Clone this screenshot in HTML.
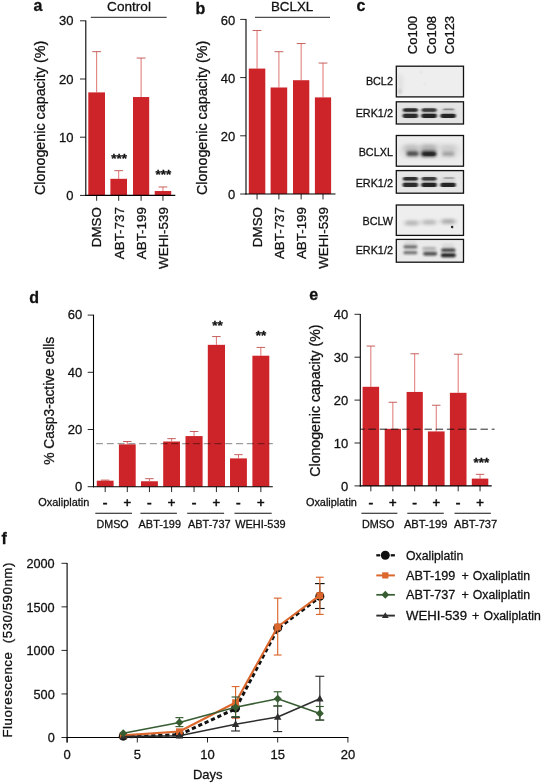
<!DOCTYPE html>
<html lang="en"><head><meta charset="utf-8"><title>Figure</title>
<style>
html,body{margin:0;padding:0;background:#fff;}
svg{display:block;font-family:'Liberation Sans', Arial, Helvetica, sans-serif;}
</style></head>
<body>
<svg width="542" height="784" viewBox="0 0 542 784">
<rect x="0" y="0" width="542" height="784" fill="#ffffff"/>
<text x="33.60" y="10.60" font-size="16" text-anchor="start" font-weight="bold" fill="#111" stroke="#111" stroke-width="0.28" >a</text>
<text x="129.00" y="10.70" font-size="13.6" text-anchor="middle" font-weight="normal" fill="#111" stroke="#111" stroke-width="0.28" >Control</text>
<line x1="90.80" y1="17.30" x2="166.70" y2="17.30" stroke="#222" stroke-width="1.0" />
<line x1="96.65" y1="92.39" x2="96.65" y2="51.65" stroke="#d6514f" stroke-width="0.8" />
<line x1="92.25" y1="51.65" x2="101.05" y2="51.65" stroke="#c0504d" stroke-width="0.9" />
<line x1="118.70" y1="178.81" x2="118.70" y2="170.67" stroke="#d6514f" stroke-width="0.8" />
<line x1="114.30" y1="170.67" x2="123.10" y2="170.67" stroke="#c0504d" stroke-width="0.9" />
<line x1="141.10" y1="97.04" x2="141.10" y2="58.05" stroke="#d6514f" stroke-width="0.8" />
<line x1="136.70" y1="58.05" x2="145.50" y2="58.05" stroke="#c0504d" stroke-width="0.9" />
<line x1="162.95" y1="191.03" x2="162.95" y2="186.96" stroke="#d6514f" stroke-width="0.8" />
<line x1="158.55" y1="186.96" x2="167.35" y2="186.96" stroke="#c0504d" stroke-width="0.9" />
<rect x="88.30" y="92.39" width="16.70" height="103.01" fill="#cc2429" />
<rect x="110.40" y="178.81" width="16.60" height="16.59" fill="#cc2429" />
<rect x="133.00" y="97.04" width="16.20" height="98.36" fill="#cc2429" />
<rect x="154.70" y="191.03" width="16.50" height="4.37" fill="#cc2429" />
<line x1="85.80" y1="20.40" x2="85.80" y2="195.95" stroke="#000" stroke-width="1.1" />
<line x1="85.25" y1="195.40" x2="175.30" y2="195.40" stroke="#000" stroke-width="1.1" />
<line x1="80.00" y1="195.40" x2="85.80" y2="195.40" stroke="#000" stroke-width="0.85" />
<text x="73.40" y="200.00" font-size="13" text-anchor="end" font-weight="normal" fill="#111" stroke="#111" stroke-width="0.28" >0</text>
<line x1="80.00" y1="137.20" x2="85.80" y2="137.20" stroke="#000" stroke-width="0.85" />
<text x="73.40" y="141.80" font-size="13" text-anchor="end" font-weight="normal" fill="#111" stroke="#111" stroke-width="0.28" >10</text>
<line x1="80.00" y1="79.00" x2="85.80" y2="79.00" stroke="#000" stroke-width="0.85" />
<text x="73.40" y="83.60" font-size="13" text-anchor="end" font-weight="normal" fill="#111" stroke="#111" stroke-width="0.28" >20</text>
<line x1="80.00" y1="20.80" x2="85.80" y2="20.80" stroke="#000" stroke-width="0.85" />
<text x="73.40" y="25.40" font-size="13" text-anchor="end" font-weight="normal" fill="#111" stroke="#111" stroke-width="0.28" >30</text>
<line x1="96.65" y1="195.40" x2="96.65" y2="200.80" stroke="#000" stroke-width="0.85" />
<line x1="118.70" y1="195.40" x2="118.70" y2="200.80" stroke="#000" stroke-width="0.85" />
<line x1="141.10" y1="195.40" x2="141.10" y2="200.80" stroke="#000" stroke-width="0.85" />
<line x1="162.95" y1="195.40" x2="162.95" y2="200.80" stroke="#000" stroke-width="0.85" />
<text x="45.10" y="117.85" font-size="14.2" text-anchor="middle" font-weight="normal" fill="#111" stroke="#111" stroke-width="0.28" transform="rotate(-90 45.10 117.85)" textLength="154.30" lengthAdjust="spacingAndGlyphs" >Clonogenic capacity (%)</text>
<text x="101.50" y="207.10" font-size="13.4" text-anchor="end" font-weight="normal" fill="#111" stroke="#111" stroke-width="0.28" transform="rotate(-90 101.50 207.10)" >DMSO</text>
<text x="123.60" y="207.10" font-size="13.4" text-anchor="end" font-weight="normal" fill="#111" stroke="#111" stroke-width="0.28" transform="rotate(-90 123.60 207.10)" >ABT-737</text>
<text x="146.00" y="207.10" font-size="13.4" text-anchor="end" font-weight="normal" fill="#111" stroke="#111" stroke-width="0.28" transform="rotate(-90 146.00 207.10)" >ABT-199</text>
<text x="167.90" y="207.10" font-size="13.4" text-anchor="end" font-weight="normal" fill="#111" stroke="#111" stroke-width="0.28" transform="rotate(-90 167.90 207.10)" >WEHI-539</text>
<text x="119.20" y="162.60" font-size="13.5" text-anchor="middle" font-weight="bold" fill="#111" stroke="#111" stroke-width="0.28" >***</text>
<text x="163.50" y="178.80" font-size="13.5" text-anchor="middle" font-weight="bold" fill="#111" stroke="#111" stroke-width="0.28" >***</text>
<text x="195.60" y="14.10" font-size="16" text-anchor="start" font-weight="bold" fill="#111" stroke="#111" stroke-width="0.28" >b</text>
<text x="292.10" y="10.70" font-size="13.4" text-anchor="middle" font-weight="normal" fill="#111" stroke="#111" stroke-width="0.28" >BCLXL</text>
<line x1="255.00" y1="17.30" x2="330.00" y2="17.30" stroke="#222" stroke-width="1.0" />
<line x1="257.05" y1="68.58" x2="257.05" y2="30.46" stroke="#d6514f" stroke-width="0.8" />
<line x1="252.65" y1="30.46" x2="261.45" y2="30.46" stroke="#c0504d" stroke-width="0.9" />
<line x1="278.90" y1="87.49" x2="278.90" y2="51.70" stroke="#d6514f" stroke-width="0.8" />
<line x1="274.50" y1="51.70" x2="283.30" y2="51.70" stroke="#c0504d" stroke-width="0.9" />
<line x1="301.15" y1="80.22" x2="301.15" y2="43.55" stroke="#d6514f" stroke-width="0.8" />
<line x1="296.75" y1="43.55" x2="305.55" y2="43.55" stroke="#c0504d" stroke-width="0.9" />
<line x1="323.00" y1="97.39" x2="323.00" y2="63.05" stroke="#d6514f" stroke-width="0.8" />
<line x1="318.60" y1="63.05" x2="327.40" y2="63.05" stroke="#c0504d" stroke-width="0.9" />
<rect x="248.80" y="68.58" width="16.50" height="125.42" fill="#cc2429" />
<rect x="270.60" y="87.49" width="16.60" height="106.51" fill="#cc2429" />
<rect x="293.00" y="80.22" width="16.30" height="113.78" fill="#cc2429" />
<rect x="314.90" y="97.39" width="16.20" height="96.61" fill="#cc2429" />
<line x1="246.00" y1="19.00" x2="246.00" y2="194.55" stroke="#000" stroke-width="1.1" />
<line x1="245.45" y1="194.00" x2="335.50" y2="194.00" stroke="#000" stroke-width="1.1" />
<line x1="240.20" y1="194.00" x2="246.00" y2="194.00" stroke="#000" stroke-width="0.85" />
<text x="235.20" y="199.30" font-size="13" text-anchor="end" font-weight="normal" fill="#111" stroke="#111" stroke-width="0.28" >0</text>
<line x1="240.20" y1="135.80" x2="246.00" y2="135.80" stroke="#000" stroke-width="0.85" />
<text x="235.20" y="141.10" font-size="13" text-anchor="end" font-weight="normal" fill="#111" stroke="#111" stroke-width="0.28" >20</text>
<line x1="240.20" y1="77.60" x2="246.00" y2="77.60" stroke="#000" stroke-width="0.85" />
<text x="235.20" y="82.90" font-size="13" text-anchor="end" font-weight="normal" fill="#111" stroke="#111" stroke-width="0.28" >40</text>
<line x1="240.20" y1="19.40" x2="246.00" y2="19.40" stroke="#000" stroke-width="0.85" />
<text x="235.20" y="24.70" font-size="13" text-anchor="end" font-weight="normal" fill="#111" stroke="#111" stroke-width="0.28" >60</text>
<line x1="257.05" y1="194.00" x2="257.05" y2="199.40" stroke="#000" stroke-width="0.85" />
<line x1="278.90" y1="194.00" x2="278.90" y2="199.40" stroke="#000" stroke-width="0.85" />
<line x1="301.15" y1="194.00" x2="301.15" y2="199.40" stroke="#000" stroke-width="0.85" />
<line x1="323.00" y1="194.00" x2="323.00" y2="199.40" stroke="#000" stroke-width="0.85" />
<text x="207.00" y="117.85" font-size="14.2" text-anchor="middle" font-weight="normal" fill="#111" stroke="#111" stroke-width="0.28" transform="rotate(-90 207.00 117.85)" textLength="154.30" lengthAdjust="spacingAndGlyphs" >Clonogenic capacity (%)</text>
<text x="261.90" y="207.00" font-size="13.4" text-anchor="end" font-weight="normal" fill="#111" stroke="#111" stroke-width="0.28" transform="rotate(-90 261.90 207.00)" >DMSO</text>
<text x="283.80" y="207.00" font-size="13.4" text-anchor="end" font-weight="normal" fill="#111" stroke="#111" stroke-width="0.28" transform="rotate(-90 283.80 207.00)" >ABT-737</text>
<text x="306.00" y="207.00" font-size="13.4" text-anchor="end" font-weight="normal" fill="#111" stroke="#111" stroke-width="0.28" transform="rotate(-90 306.00 207.00)" >ABT-199</text>
<text x="327.90" y="207.00" font-size="13.4" text-anchor="end" font-weight="normal" fill="#111" stroke="#111" stroke-width="0.28" transform="rotate(-90 327.90 207.00)" >WEHI-539</text>
<text x="356.60" y="10.50" font-size="16" text-anchor="start" font-weight="bold" fill="#111" stroke="#111" stroke-width="0.28" >c</text>
<text x="417.30" y="54.20" font-size="13" text-anchor="start" font-weight="normal" fill="#111" stroke="#111" stroke-width="0.28" transform="rotate(-90 417.30 54.20)" >Co100</text>
<text x="436.10" y="54.20" font-size="13" text-anchor="start" font-weight="normal" fill="#111" stroke="#111" stroke-width="0.28" transform="rotate(-90 436.10 54.20)" >Co108</text>
<text x="454.20" y="54.20" font-size="13" text-anchor="start" font-weight="normal" fill="#111" stroke="#111" stroke-width="0.28" transform="rotate(-90 454.20 54.20)" >Co123</text>
<defs><filter id="b0" x="-100%" y="-100%" width="300%" height="300%"><feGaussianBlur stdDeviation="0.45"/></filter><filter id="b1" x="-50%" y="-200%" width="200%" height="500%"><feGaussianBlur stdDeviation="0.9 0.7"/></filter><filter id="b15" x="-50%" y="-200%" width="200%" height="500%"><feGaussianBlur stdDeviation="1.3 1.0"/></filter><filter id="b2" x="-50%" y="-200%" width="200%" height="500%"><feGaussianBlur stdDeviation="1.6 1.4"/></filter><filter id="b3" x="-50%" y="-200%" width="200%" height="500%"><feGaussianBlur stdDeviation="2.2 1.8"/></filter></defs>
<rect x="396.30" y="66.20" width="67.20" height="30.70" fill="#eeeeee" />
<text x="392.90" y="84.65" font-size="10.8" text-anchor="end" font-weight="normal" fill="#111" stroke="#111" stroke-width="0.28" >BCL2</text>
<rect x="396.30" y="101.80" width="67.20" height="22.20" fill="#e4e4e4" />
<text x="392.90" y="117.20" font-size="10.8" text-anchor="end" font-weight="normal" fill="#111" stroke="#111" stroke-width="0.28" >ERK1/2</text>
<rect x="396.30" y="135.50" width="67.20" height="30.70" fill="#ececec" />
<text x="392.90" y="155.75" font-size="10.8" text-anchor="end" font-weight="normal" fill="#111" stroke="#111" stroke-width="0.28" >BCLXL</text>
<rect x="396.30" y="170.60" width="67.20" height="22.60" fill="#e6e6e6" />
<text x="392.90" y="187.10" font-size="10.8" text-anchor="end" font-weight="normal" fill="#111" stroke="#111" stroke-width="0.28" >ERK1/2</text>
<rect x="396.30" y="205.00" width="67.20" height="30.40" fill="#eeeeee" />
<text x="392.90" y="224.80" font-size="10.8" text-anchor="end" font-weight="normal" fill="#111" stroke="#111" stroke-width="0.28" >BCLW</text>
<rect x="396.30" y="239.40" width="67.20" height="22.80" fill="#eaeaea" />
<text x="392.90" y="253.60" font-size="10.8" text-anchor="end" font-weight="normal" fill="#111" stroke="#111" stroke-width="0.28" >ERK1/2</text>
<rect x="397.70" y="73.00" width="5.00" height="22.00" rx="11.00" fill="#1c1c1c" opacity="0.07" filter="url(#b3)"/>
<rect x="398.30" y="89.25" width="2.60" height="4.50" rx="2.25" fill="#1c1c1c" opacity="0.22" filter="url(#b2)"/>
<rect x="420.20" y="70.50" width="1.60" height="3.00" rx="1.50" fill="#1c1c1c" opacity="0.08" filter="url(#b1)"/>
<rect x="424.20" y="82.50" width="1.60" height="3.00" rx="1.50" fill="#1c1c1c" opacity="0.06" filter="url(#b1)"/>
<rect x="402.65" y="108.30" width="15.50" height="9.00" rx="4.50" fill="#1c1c1c" opacity="0.22" filter="url(#b2)"/>
<rect x="402.90" y="108.20" width="15.00" height="3.60" rx="1.80" fill="#1c1c1c" opacity="0.9" filter="url(#b1)"/>
<rect x="402.60" y="113.80" width="15.60" height="4.20" rx="2.10" fill="#1c1c1c" opacity="0.9" filter="url(#b1)"/>
<rect x="421.35" y="108.30" width="15.50" height="9.00" rx="4.50" fill="#1c1c1c" opacity="0.22" filter="url(#b2)"/>
<rect x="421.60" y="108.20" width="15.00" height="3.60" rx="1.80" fill="#1c1c1c" opacity="0.8" filter="url(#b1)"/>
<rect x="421.30" y="113.80" width="15.60" height="4.20" rx="2.10" fill="#1c1c1c" opacity="0.95" filter="url(#b1)"/>
<rect x="440.35" y="108.30" width="15.50" height="9.00" rx="4.50" fill="#1c1c1c" opacity="0.1" filter="url(#b2)"/>
<rect x="440.30" y="113.80" width="15.60" height="4.20" rx="2.10" fill="#1c1c1c" opacity="0.95" filter="url(#b1)"/>
<rect x="443.10" y="108.55" width="11.00" height="1.70" rx="0.85" fill="#1c1c1c" opacity="0.4" filter="url(#b1)"/>
<rect x="406.35" y="151.50" width="12.50" height="4.60" rx="2.30" fill="#1c1c1c" opacity="0.8" filter="url(#b2)"/>
<rect x="420.95" y="151.00" width="15.50" height="5.60" rx="2.80" fill="#1c1c1c" opacity="0.95" filter="url(#b2)"/>
<rect x="423.50" y="152.40" width="12.00" height="3.60" rx="1.80" fill="#1c1c1c" opacity="0.55" filter="url(#b1)"/>
<rect x="442.05" y="152.10" width="12.50" height="3.80" rx="1.90" fill="#1c1c1c" opacity="0.32" filter="url(#b2)"/>
<rect x="403.90" y="145.00" width="15.00" height="8.00" rx="4.00" fill="#1c1c1c" opacity="0.16" filter="url(#b3)"/>
<rect x="420.70" y="144.50" width="16.00" height="8.00" rx="4.00" fill="#1c1c1c" opacity="0.22" filter="url(#b3)"/>
<rect x="440.80" y="145.00" width="15.00" height="8.00" rx="4.00" fill="#1c1c1c" opacity="0.09" filter="url(#b3)"/>
<rect x="399.00" y="143.00" width="62.00" height="16.00" rx="8.00" fill="#1c1c1c" opacity="0.05" filter="url(#b3)"/>
<rect x="402.65" y="177.30" width="15.50" height="9.00" rx="4.50" fill="#1c1c1c" opacity="0.2" filter="url(#b2)"/>
<rect x="402.90" y="177.00" width="15.00" height="3.60" rx="1.80" fill="#1c1c1c" opacity="0.88" filter="url(#b1)"/>
<rect x="402.60" y="182.70" width="15.60" height="4.40" rx="2.20" fill="#1c1c1c" opacity="0.9" filter="url(#b1)"/>
<rect x="421.35" y="177.30" width="15.50" height="9.00" rx="4.50" fill="#1c1c1c" opacity="0.2" filter="url(#b2)"/>
<rect x="421.60" y="177.00" width="15.00" height="3.60" rx="1.80" fill="#1c1c1c" opacity="0.8" filter="url(#b1)"/>
<rect x="421.30" y="182.70" width="15.60" height="4.40" rx="2.20" fill="#1c1c1c" opacity="0.95" filter="url(#b1)"/>
<rect x="440.35" y="177.30" width="15.50" height="9.00" rx="4.50" fill="#1c1c1c" opacity="0.08" filter="url(#b2)"/>
<rect x="440.30" y="182.70" width="15.60" height="4.40" rx="2.20" fill="#1c1c1c" opacity="0.95" filter="url(#b1)"/>
<rect x="443.75" y="177.15" width="10.50" height="1.50" rx="0.75" fill="#1c1c1c" opacity="0.35" filter="url(#b1)"/>
<rect x="404.80" y="220.50" width="14.00" height="5.00" rx="2.50" fill="#1c1c1c" opacity="0.26" filter="url(#b3)"/>
<rect x="422.10" y="219.70" width="14.00" height="5.00" rx="2.50" fill="#1c1c1c" opacity="0.24" filter="url(#b3)"/>
<rect x="441.30" y="219.10" width="14.00" height="5.00" rx="2.50" fill="#1c1c1c" opacity="0.3" filter="url(#b3)"/>
<circle cx="452.1" cy="226.9" r="1.25" fill="#1c1c1c" opacity="0.95" filter="url(#b0)"/>
<rect x="403.40" y="245.20" width="14.00" height="3.20" rx="1.60" fill="#1c1c1c" opacity="0.62" filter="url(#b15)"/>
<rect x="403.40" y="251.10" width="14.00" height="3.20" rx="1.60" fill="#1c1c1c" opacity="0.58" filter="url(#b15)"/>
<rect x="422.35" y="247.20" width="13.50" height="2.40" rx="1.20" fill="#1c1c1c" opacity="0.25" filter="url(#b15)"/>
<rect x="423.20" y="252.00" width="14.00" height="3.60" rx="1.80" fill="#1c1c1c" opacity="0.75" filter="url(#b15)"/>
<rect x="441.05" y="248.40" width="14.50" height="3.40" rx="1.70" fill="#1c1c1c" opacity="0.85" filter="url(#b15)"/>
<rect x="440.80" y="253.25" width="15.00" height="3.90" rx="1.95" fill="#1c1c1c" opacity="0.98" filter="url(#b15)"/>
<rect x="404.40" y="241.50" width="12.00" height="3.00" rx="1.50" fill="#1c1c1c" opacity="0.1" filter="url(#b2)"/>
<rect x="442.30" y="244.00" width="12.00" height="3.00" rx="1.50" fill="#1c1c1c" opacity="0.1" filter="url(#b2)"/>
<rect x="422.50" y="247.00" width="14.00" height="8.00" rx="4.00" fill="#1c1c1c" opacity="0.1" filter="url(#b2)"/>
<rect x="396.30" y="66.20" width="67.20" height="30.70" fill="none" stroke="#111" stroke-width="1.3"/>
<rect x="396.30" y="101.80" width="67.20" height="22.20" fill="none" stroke="#111" stroke-width="1.3"/>
<rect x="396.30" y="135.50" width="67.20" height="30.70" fill="none" stroke="#111" stroke-width="1.3"/>
<rect x="396.30" y="170.60" width="67.20" height="22.60" fill="none" stroke="#111" stroke-width="1.3"/>
<rect x="396.30" y="205.00" width="67.20" height="30.40" fill="none" stroke="#111" stroke-width="1.3"/>
<rect x="396.30" y="239.40" width="67.20" height="22.80" fill="none" stroke="#111" stroke-width="1.3"/>
<text x="29.20" y="303.30" font-size="16" text-anchor="start" font-weight="bold" fill="#111" stroke="#111" stroke-width="0.28" >d</text>
<line x1="105.20" y1="480.69" x2="105.20" y2="480.12" stroke="#d6514f" stroke-width="0.8" />
<line x1="100.95" y1="480.12" x2="109.45" y2="480.12" stroke="#c0504d" stroke-width="0.9" />
<line x1="127.30" y1="444.37" x2="127.30" y2="441.51" stroke="#d6514f" stroke-width="0.8" />
<line x1="123.05" y1="441.51" x2="131.55" y2="441.51" stroke="#c0504d" stroke-width="0.9" />
<line x1="149.45" y1="481.27" x2="149.45" y2="478.69" stroke="#d6514f" stroke-width="0.8" />
<line x1="145.20" y1="478.69" x2="153.70" y2="478.69" stroke="#c0504d" stroke-width="0.9" />
<line x1="171.60" y1="441.51" x2="171.60" y2="438.65" stroke="#d6514f" stroke-width="0.8" />
<line x1="167.35" y1="438.65" x2="175.85" y2="438.65" stroke="#c0504d" stroke-width="0.9" />
<line x1="194.05" y1="436.08" x2="194.05" y2="431.50" stroke="#d6514f" stroke-width="0.8" />
<line x1="189.80" y1="431.50" x2="198.30" y2="431.50" stroke="#c0504d" stroke-width="0.9" />
<line x1="216.40" y1="344.84" x2="216.40" y2="336.55" stroke="#d6514f" stroke-width="0.8" />
<line x1="212.15" y1="336.55" x2="220.65" y2="336.55" stroke="#c0504d" stroke-width="0.9" />
<line x1="238.45" y1="458.39" x2="238.45" y2="454.67" stroke="#d6514f" stroke-width="0.8" />
<line x1="234.20" y1="454.67" x2="242.70" y2="454.67" stroke="#c0504d" stroke-width="0.9" />
<line x1="260.85" y1="355.71" x2="260.85" y2="347.42" stroke="#d6514f" stroke-width="0.8" />
<line x1="256.60" y1="347.42" x2="265.10" y2="347.42" stroke="#c0504d" stroke-width="0.9" />
<rect x="96.80" y="480.69" width="16.80" height="6.01" fill="#cc2429" />
<rect x="118.90" y="444.37" width="16.80" height="42.33" fill="#cc2429" />
<rect x="141.00" y="481.27" width="16.90" height="5.43" fill="#cc2429" />
<rect x="163.20" y="441.51" width="16.80" height="45.19" fill="#cc2429" />
<rect x="185.50" y="436.08" width="17.10" height="50.62" fill="#cc2429" />
<rect x="207.80" y="344.84" width="17.20" height="141.86" fill="#cc2429" />
<rect x="230.00" y="458.39" width="16.90" height="28.31" fill="#cc2429" />
<rect x="252.40" y="355.71" width="16.90" height="130.99" fill="#cc2429" />
<line x1="93.50" y1="314.70" x2="93.50" y2="487.25" stroke="#000" stroke-width="1.1" />
<line x1="92.95" y1="486.70" x2="272.80" y2="486.70" stroke="#000" stroke-width="1.1" />
<line x1="87.70" y1="486.70" x2="93.50" y2="486.70" stroke="#000" stroke-width="0.85" />
<text x="82.30" y="490.90" font-size="13" text-anchor="end" font-weight="normal" fill="#111" stroke="#111" stroke-width="0.28" >0</text>
<line x1="87.70" y1="429.50" x2="93.50" y2="429.50" stroke="#000" stroke-width="0.85" />
<text x="82.30" y="433.70" font-size="13" text-anchor="end" font-weight="normal" fill="#111" stroke="#111" stroke-width="0.28" >20</text>
<line x1="87.70" y1="372.30" x2="93.50" y2="372.30" stroke="#000" stroke-width="0.85" />
<text x="82.30" y="376.50" font-size="13" text-anchor="end" font-weight="normal" fill="#111" stroke="#111" stroke-width="0.28" >40</text>
<line x1="87.70" y1="315.10" x2="93.50" y2="315.10" stroke="#000" stroke-width="0.85" />
<text x="82.30" y="319.30" font-size="13" text-anchor="end" font-weight="normal" fill="#111" stroke="#111" stroke-width="0.28" >60</text>
<line x1="105.20" y1="486.70" x2="105.20" y2="492.10" stroke="#000" stroke-width="0.85" />
<line x1="127.30" y1="486.70" x2="127.30" y2="492.10" stroke="#000" stroke-width="0.85" />
<line x1="149.45" y1="486.70" x2="149.45" y2="492.10" stroke="#000" stroke-width="0.85" />
<line x1="171.60" y1="486.70" x2="171.60" y2="492.10" stroke="#000" stroke-width="0.85" />
<line x1="194.05" y1="486.70" x2="194.05" y2="492.10" stroke="#000" stroke-width="0.85" />
<line x1="216.40" y1="486.70" x2="216.40" y2="492.10" stroke="#000" stroke-width="0.85" />
<line x1="238.45" y1="486.70" x2="238.45" y2="492.10" stroke="#000" stroke-width="0.85" />
<line x1="260.85" y1="486.70" x2="260.85" y2="492.10" stroke="#000" stroke-width="0.85" />
<line x1="93.50" y1="443.70" x2="272.80" y2="443.70" stroke="#858585" stroke-width="1.0" stroke-dasharray="7 3.77" stroke-dashoffset="8.27" style="mix-blend-mode:multiply"/>
<text x="54.00" y="400.80" font-size="14.2" text-anchor="middle" font-weight="normal" fill="#111" stroke="#111" stroke-width="0.28" transform="rotate(-90 54.00 400.80)" textLength="128.10" lengthAdjust="spacingAndGlyphs" >% Casp3-active cells</text>
<text x="38.30" y="505.80" font-size="10.9" text-anchor="start" font-weight="normal" fill="#111" stroke="#111" stroke-width="0.28" textLength="51.00" lengthAdjust="spacingAndGlyphs" >Oxaliplatin</text>
<text x="105.20" y="508.20" font-size="14" text-anchor="middle" font-weight="normal" fill="#111" stroke="#111" stroke-width="0.6" >-</text>
<text x="127.30" y="506.90" font-size="13" text-anchor="middle" font-weight="normal" fill="#111" stroke="#111" stroke-width="0.6" >+</text>
<text x="149.45" y="508.20" font-size="14" text-anchor="middle" font-weight="normal" fill="#111" stroke="#111" stroke-width="0.6" >-</text>
<text x="171.60" y="506.90" font-size="13" text-anchor="middle" font-weight="normal" fill="#111" stroke="#111" stroke-width="0.6" >+</text>
<text x="194.05" y="508.20" font-size="14" text-anchor="middle" font-weight="normal" fill="#111" stroke="#111" stroke-width="0.6" >-</text>
<text x="216.40" y="506.90" font-size="13" text-anchor="middle" font-weight="normal" fill="#111" stroke="#111" stroke-width="0.6" >+</text>
<text x="238.45" y="508.20" font-size="14" text-anchor="middle" font-weight="normal" fill="#111" stroke="#111" stroke-width="0.6" >-</text>
<text x="260.85" y="506.90" font-size="13" text-anchor="middle" font-weight="normal" fill="#111" stroke="#111" stroke-width="0.6" >+</text>
<line x1="95.30" y1="513.30" x2="132.00" y2="513.30" stroke="#111" stroke-width="1.1" />
<text x="96.50" y="527.60" font-size="11" text-anchor="start" font-weight="normal" fill="#111" stroke="#111" stroke-width="0.28" textLength="32.10" lengthAdjust="spacingAndGlyphs" >DMSO</text>
<line x1="140.40" y1="513.30" x2="176.90" y2="513.30" stroke="#111" stroke-width="1.1" />
<text x="138.60" y="527.60" font-size="11" text-anchor="start" font-weight="normal" fill="#111" stroke="#111" stroke-width="0.28" textLength="42.40" lengthAdjust="spacingAndGlyphs" >ABT-199</text>
<line x1="187.20" y1="513.30" x2="224.10" y2="513.30" stroke="#111" stroke-width="1.1" />
<text x="188.00" y="527.60" font-size="11" text-anchor="start" font-weight="normal" fill="#111" stroke="#111" stroke-width="0.28" textLength="42.60" lengthAdjust="spacingAndGlyphs" >ABT-737</text>
<line x1="234.50" y1="513.30" x2="271.70" y2="513.30" stroke="#111" stroke-width="1.1" />
<text x="235.20" y="527.60" font-size="11" text-anchor="start" font-weight="normal" fill="#111" stroke="#111" stroke-width="0.28" textLength="50.40" lengthAdjust="spacingAndGlyphs" >WEHI-539</text>
<text x="217.60" y="330.00" font-size="13.5" text-anchor="middle" font-weight="bold" fill="#111" stroke="#111" stroke-width="0.28" >**</text>
<text x="261.00" y="339.80" font-size="13.5" text-anchor="middle" font-weight="bold" fill="#111" stroke="#111" stroke-width="0.28" >**</text>
<text x="309.20" y="300.40" font-size="16" text-anchor="start" font-weight="bold" fill="#111" stroke="#111" stroke-width="0.28" >e</text>
<line x1="370.85" y1="386.80" x2="370.85" y2="346.05" stroke="#d6514f" stroke-width="0.8" />
<line x1="366.60" y1="346.05" x2="375.10" y2="346.05" stroke="#c0504d" stroke-width="0.9" />
<line x1="392.85" y1="428.84" x2="392.85" y2="402.25" stroke="#d6514f" stroke-width="0.8" />
<line x1="388.60" y1="402.25" x2="397.10" y2="402.25" stroke="#c0504d" stroke-width="0.9" />
<line x1="414.70" y1="391.95" x2="414.70" y2="353.77" stroke="#d6514f" stroke-width="0.8" />
<line x1="410.45" y1="353.77" x2="418.95" y2="353.77" stroke="#c0504d" stroke-width="0.9" />
<line x1="436.25" y1="431.42" x2="436.25" y2="405.25" stroke="#d6514f" stroke-width="0.8" />
<line x1="432.00" y1="405.25" x2="440.50" y2="405.25" stroke="#c0504d" stroke-width="0.9" />
<line x1="458.20" y1="392.81" x2="458.20" y2="354.20" stroke="#d6514f" stroke-width="0.8" />
<line x1="453.95" y1="354.20" x2="462.45" y2="354.20" stroke="#c0504d" stroke-width="0.9" />
<line x1="480.05" y1="478.61" x2="480.05" y2="474.32" stroke="#d6514f" stroke-width="0.8" />
<line x1="475.80" y1="474.32" x2="484.30" y2="474.32" stroke="#c0504d" stroke-width="0.9" />
<rect x="362.60" y="386.80" width="16.50" height="99.10" fill="#cc2429" />
<rect x="384.70" y="428.84" width="16.30" height="57.06" fill="#cc2429" />
<rect x="406.60" y="391.95" width="16.20" height="93.95" fill="#cc2429" />
<rect x="427.90" y="431.42" width="16.70" height="54.48" fill="#cc2429" />
<rect x="449.90" y="392.81" width="16.60" height="93.09" fill="#cc2429" />
<rect x="471.80" y="478.61" width="16.50" height="7.29" fill="#cc2429" />
<line x1="360.30" y1="313.90" x2="360.30" y2="486.45" stroke="#000" stroke-width="1.1" />
<line x1="359.75" y1="485.90" x2="491.70" y2="485.90" stroke="#000" stroke-width="1.1" />
<line x1="354.50" y1="485.90" x2="360.30" y2="485.90" stroke="#000" stroke-width="0.85" />
<text x="348.20" y="490.50" font-size="13" text-anchor="end" font-weight="normal" fill="#111" stroke="#111" stroke-width="0.28" >0</text>
<line x1="354.50" y1="443.00" x2="360.30" y2="443.00" stroke="#000" stroke-width="0.85" />
<text x="348.20" y="447.60" font-size="13" text-anchor="end" font-weight="normal" fill="#111" stroke="#111" stroke-width="0.28" >10</text>
<line x1="354.50" y1="400.10" x2="360.30" y2="400.10" stroke="#000" stroke-width="0.85" />
<text x="348.20" y="404.70" font-size="13" text-anchor="end" font-weight="normal" fill="#111" stroke="#111" stroke-width="0.28" >20</text>
<line x1="354.50" y1="357.20" x2="360.30" y2="357.20" stroke="#000" stroke-width="0.85" />
<text x="348.20" y="361.80" font-size="13" text-anchor="end" font-weight="normal" fill="#111" stroke="#111" stroke-width="0.28" >30</text>
<line x1="354.50" y1="314.30" x2="360.30" y2="314.30" stroke="#000" stroke-width="0.85" />
<text x="348.20" y="318.90" font-size="13" text-anchor="end" font-weight="normal" fill="#111" stroke="#111" stroke-width="0.28" >40</text>
<line x1="370.85" y1="485.90" x2="370.85" y2="491.30" stroke="#000" stroke-width="0.85" />
<line x1="392.85" y1="485.90" x2="392.85" y2="491.30" stroke="#000" stroke-width="0.85" />
<line x1="414.70" y1="485.90" x2="414.70" y2="491.30" stroke="#000" stroke-width="0.85" />
<line x1="436.25" y1="485.90" x2="436.25" y2="491.30" stroke="#000" stroke-width="0.85" />
<line x1="458.20" y1="485.90" x2="458.20" y2="491.30" stroke="#000" stroke-width="0.85" />
<line x1="480.05" y1="485.90" x2="480.05" y2="491.30" stroke="#000" stroke-width="0.85" />
<line x1="360.30" y1="429.20" x2="494.60" y2="429.20" stroke="#111" stroke-width="0.9" stroke-dasharray="7.4 3.8" stroke-dashoffset="3"/>
<text x="319.80" y="400.55" font-size="14.2" text-anchor="middle" font-weight="normal" fill="#111" stroke="#111" stroke-width="0.28" transform="rotate(-90 319.80 400.55)" textLength="152.20" lengthAdjust="spacingAndGlyphs" >Clonogenic capacity (%)</text>
<text x="305.90" y="505.80" font-size="10.9" text-anchor="start" font-weight="normal" fill="#111" stroke="#111" stroke-width="0.28" textLength="51.00" lengthAdjust="spacingAndGlyphs" >Oxaliplatin</text>
<text x="370.85" y="508.20" font-size="14" text-anchor="middle" font-weight="normal" fill="#111" stroke="#111" stroke-width="0.6" >-</text>
<text x="392.85" y="506.90" font-size="13" text-anchor="middle" font-weight="normal" fill="#111" stroke="#111" stroke-width="0.6" >+</text>
<text x="414.70" y="508.20" font-size="14" text-anchor="middle" font-weight="normal" fill="#111" stroke="#111" stroke-width="0.6" >-</text>
<text x="436.25" y="506.90" font-size="13" text-anchor="middle" font-weight="normal" fill="#111" stroke="#111" stroke-width="0.6" >+</text>
<text x="458.20" y="508.20" font-size="14" text-anchor="middle" font-weight="normal" fill="#111" stroke="#111" stroke-width="0.6" >-</text>
<text x="480.05" y="506.90" font-size="13" text-anchor="middle" font-weight="normal" fill="#111" stroke="#111" stroke-width="0.6" >+</text>
<line x1="361.40" y1="513.30" x2="397.40" y2="513.30" stroke="#111" stroke-width="1.1" />
<text x="362.00" y="527.60" font-size="11" text-anchor="start" font-weight="normal" fill="#111" stroke="#111" stroke-width="0.28" textLength="32.50" lengthAdjust="spacingAndGlyphs" >DMSO</text>
<line x1="407.30" y1="513.30" x2="443.80" y2="513.30" stroke="#111" stroke-width="1.1" />
<text x="403.90" y="527.60" font-size="11" text-anchor="start" font-weight="normal" fill="#111" stroke="#111" stroke-width="0.28" textLength="43.50" lengthAdjust="spacingAndGlyphs" >ABT-199</text>
<line x1="454.50" y1="513.30" x2="490.90" y2="513.30" stroke="#111" stroke-width="1.1" />
<text x="454.00" y="527.60" font-size="11" text-anchor="start" font-weight="normal" fill="#111" stroke="#111" stroke-width="0.28" textLength="43.20" lengthAdjust="spacingAndGlyphs" >ABT-737</text>
<text x="481.30" y="466.80" font-size="13.5" text-anchor="middle" font-weight="bold" fill="#111" stroke="#111" stroke-width="0.28" >***</text>
<text x="1.40" y="543.70" font-size="16" text-anchor="start" font-weight="bold" fill="#111" stroke="#111" stroke-width="0.28" >f</text>
<line x1="67.10" y1="562.90" x2="67.10" y2="742.50" stroke="#000" stroke-width="1.1" />
<line x1="66.55" y1="737.50" x2="348.40" y2="737.50" stroke="#000" stroke-width="1.1" />
<line x1="61.50" y1="737.50" x2="67.10" y2="737.50" stroke="#000" stroke-width="0.85" />
<text x="54.70" y="742.20" font-size="12.7" text-anchor="end" font-weight="normal" fill="#111" stroke="#111" stroke-width="0.28" >0</text>
<line x1="61.50" y1="693.95" x2="67.10" y2="693.95" stroke="#000" stroke-width="0.85" />
<text x="54.70" y="698.65" font-size="12.7" text-anchor="end" font-weight="normal" fill="#111" stroke="#111" stroke-width="0.28" >500</text>
<line x1="61.50" y1="650.40" x2="67.10" y2="650.40" stroke="#000" stroke-width="0.85" />
<text x="54.70" y="655.10" font-size="12.7" text-anchor="end" font-weight="normal" fill="#111" stroke="#111" stroke-width="0.28" >1000</text>
<line x1="61.50" y1="606.85" x2="67.10" y2="606.85" stroke="#000" stroke-width="0.85" />
<text x="54.70" y="611.55" font-size="12.7" text-anchor="end" font-weight="normal" fill="#111" stroke="#111" stroke-width="0.28" >1500</text>
<line x1="61.50" y1="563.30" x2="67.10" y2="563.30" stroke="#000" stroke-width="0.85" />
<text x="54.70" y="568.00" font-size="12.7" text-anchor="end" font-weight="normal" fill="#111" stroke="#111" stroke-width="0.28" >2000</text>
<line x1="67.10" y1="737.50" x2="67.10" y2="742.50" stroke="#000" stroke-width="0.85" />
<text x="67.10" y="759.40" font-size="13" text-anchor="middle" font-weight="normal" fill="#111" stroke="#111" stroke-width="0.28" >0</text>
<line x1="137.30" y1="737.50" x2="137.30" y2="742.50" stroke="#000" stroke-width="0.85" />
<text x="137.30" y="759.40" font-size="13" text-anchor="middle" font-weight="normal" fill="#111" stroke="#111" stroke-width="0.28" >5</text>
<line x1="207.50" y1="737.50" x2="207.50" y2="742.50" stroke="#000" stroke-width="0.85" />
<text x="207.50" y="759.40" font-size="13" text-anchor="middle" font-weight="normal" fill="#111" stroke="#111" stroke-width="0.28" >10</text>
<line x1="277.70" y1="737.50" x2="277.70" y2="742.50" stroke="#000" stroke-width="0.85" />
<text x="277.70" y="759.40" font-size="13" text-anchor="middle" font-weight="normal" fill="#111" stroke="#111" stroke-width="0.28" >15</text>
<line x1="347.90" y1="737.50" x2="347.90" y2="742.50" stroke="#000" stroke-width="0.85" />
<text x="347.90" y="759.40" font-size="13" text-anchor="middle" font-weight="normal" fill="#111" stroke="#111" stroke-width="0.28" >20</text>
<text x="207.80" y="779.20" font-size="13" text-anchor="middle" font-weight="normal" fill="#111" stroke="#111" stroke-width="0.28" >Days</text>
<text x="11.90" y="650.10" font-size="13.3" text-anchor="middle" font-weight="normal" fill="#111" stroke="#111" stroke-width="0.28" transform="rotate(-90 11.90 650.10)" textLength="175.00" lengthAdjust="spacing" >Fluorescence&#160;&#160;(530/590nm)</text>
<line x1="319.82" y1="608.50" x2="319.82" y2="583.59" stroke="#111" stroke-width="1.15" />
<line x1="315.02" y1="608.50" x2="324.62" y2="608.50" stroke="#111" stroke-width="1.15" />
<line x1="315.02" y1="583.59" x2="324.62" y2="583.59" stroke="#111" stroke-width="1.15" />
<polyline points="123.26,736.99 179.42,734.64 235.58,708.77 277.70,628.73 319.82,597.02" fill="none" stroke="#111" stroke-width="3.0" stroke-dasharray="4.2 2.8" stroke-linejoin="round"/>
<circle cx="123.26" cy="736.19" r="4.5" fill="#111"/>
<circle cx="179.42" cy="733.84" r="4.5" fill="#111"/>
<circle cx="235.58" cy="707.97" r="4.5" fill="#111"/>
<circle cx="277.70" cy="627.93" r="4.5" fill="#111"/>
<circle cx="319.82" cy="596.22" r="4.5" fill="#111"/>
<line x1="235.58" y1="718.16" x2="235.58" y2="686.55" stroke="#db672d" stroke-width="1.15" />
<line x1="231.68" y1="718.16" x2="239.48" y2="718.16" stroke="#db672d" stroke-width="1.15" />
<line x1="231.68" y1="686.55" x2="239.48" y2="686.55" stroke="#db672d" stroke-width="1.15" />
<line x1="277.70" y1="655.02" x2="277.70" y2="598.14" stroke="#db672d" stroke-width="1.15" />
<line x1="273.80" y1="655.02" x2="281.60" y2="655.02" stroke="#db672d" stroke-width="1.15" />
<line x1="273.80" y1="598.14" x2="281.60" y2="598.14" stroke="#db672d" stroke-width="1.15" />
<line x1="319.82" y1="614.43" x2="319.82" y2="577.24" stroke="#db672d" stroke-width="1.15" />
<line x1="315.92" y1="614.43" x2="323.72" y2="614.43" stroke="#db672d" stroke-width="1.15" />
<line x1="315.92" y1="577.24" x2="323.72" y2="577.24" stroke="#db672d" stroke-width="1.15" />
<polyline points="123.26,735.38 179.42,731.55 235.58,702.46 277.70,626.77 319.82,595.41" fill="none" stroke="#db672d" stroke-width="2.1" stroke-linejoin="round"/>
<rect x="119.86" y="732.18" width="6.80" height="6.80" fill="#db672d" />
<rect x="176.02" y="728.35" width="6.80" height="6.80" fill="#db672d" />
<rect x="232.18" y="699.26" width="6.80" height="6.80" fill="#db672d" />
<rect x="274.30" y="623.57" width="6.80" height="6.80" fill="#db672d" />
<rect x="316.42" y="592.21" width="6.80" height="6.80" fill="#db672d" />
<line x1="235.58" y1="730.97" x2="235.58" y2="717.29" stroke="#2e2e2e" stroke-width="1.15" />
<line x1="231.08" y1="730.97" x2="240.08" y2="730.97" stroke="#2e2e2e" stroke-width="1.15" />
<line x1="231.08" y1="717.29" x2="240.08" y2="717.29" stroke="#2e2e2e" stroke-width="1.15" />
<line x1="277.70" y1="731.58" x2="277.70" y2="705.97" stroke="#2e2e2e" stroke-width="1.15" />
<line x1="273.20" y1="731.58" x2="282.20" y2="731.58" stroke="#2e2e2e" stroke-width="1.15" />
<line x1="273.20" y1="705.97" x2="282.20" y2="705.97" stroke="#2e2e2e" stroke-width="1.15" />
<line x1="319.82" y1="720.08" x2="319.82" y2="676.27" stroke="#2e2e2e" stroke-width="1.15" />
<line x1="315.32" y1="720.08" x2="324.32" y2="720.08" stroke="#2e2e2e" stroke-width="1.15" />
<line x1="315.32" y1="676.27" x2="324.32" y2="676.27" stroke="#2e2e2e" stroke-width="1.15" />
<polyline points="123.26,736.63 179.42,735.76 235.58,724.26 277.70,716.94 319.82,698.74" fill="none" stroke="#2e2e2e" stroke-width="1.6" stroke-linejoin="round"/>
<polygon points="123.26,732.73 126.96,739.33 119.56,739.33" fill="#2e2e2e"/>
<polygon points="179.42,731.86 183.12,738.46 175.72,738.46" fill="#2e2e2e"/>
<polygon points="235.58,720.36 239.28,726.96 231.88,726.96" fill="#2e2e2e"/>
<polygon points="277.70,713.04 281.40,719.64 274.00,719.64" fill="#2e2e2e"/>
<polygon points="319.82,694.84 323.52,701.44 316.12,701.44" fill="#2e2e2e"/>
<line x1="179.42" y1="726.61" x2="179.42" y2="717.64" stroke="#375c32" stroke-width="1.15" />
<line x1="175.42" y1="726.61" x2="183.42" y2="726.61" stroke="#375c32" stroke-width="1.15" />
<line x1="175.42" y1="717.64" x2="183.42" y2="717.64" stroke="#375c32" stroke-width="1.15" />
<line x1="235.58" y1="716.60" x2="235.58" y2="697.00" stroke="#375c32" stroke-width="1.15" />
<line x1="231.58" y1="716.60" x2="239.58" y2="716.60" stroke="#375c32" stroke-width="1.15" />
<line x1="231.58" y1="697.00" x2="239.58" y2="697.00" stroke="#375c32" stroke-width="1.15" />
<line x1="277.70" y1="705.97" x2="277.70" y2="691.77" stroke="#375c32" stroke-width="1.15" />
<line x1="273.70" y1="705.97" x2="281.70" y2="705.97" stroke="#375c32" stroke-width="1.15" />
<line x1="273.70" y1="691.77" x2="281.70" y2="691.77" stroke="#375c32" stroke-width="1.15" />
<line x1="319.82" y1="720.08" x2="319.82" y2="706.49" stroke="#375c32" stroke-width="1.15" />
<line x1="315.82" y1="720.08" x2="323.82" y2="720.08" stroke="#375c32" stroke-width="1.15" />
<line x1="315.82" y1="706.49" x2="323.82" y2="706.49" stroke="#375c32" stroke-width="1.15" />
<polyline points="123.26,733.32 179.42,722.43 235.58,707.28 277.70,698.74 319.82,713.46" fill="none" stroke="#375c32" stroke-width="1.5" stroke-linejoin="round"/>
<polygon points="123.26,729.22 127.26,733.32 123.26,737.42 119.26,733.32" fill="#375c32"/>
<polygon points="179.42,718.33 183.42,722.43 179.42,726.53 175.42,722.43" fill="#375c32"/>
<polygon points="235.58,703.18 239.58,707.28 235.58,711.38 231.58,707.28" fill="#375c32"/>
<polygon points="277.70,694.64 281.70,698.74 277.70,702.84 273.70,698.74" fill="#375c32"/>
<polygon points="319.82,709.36 323.82,713.46 319.82,717.56 315.82,713.46" fill="#375c32"/>
<line x1="376.30" y1="555.30" x2="380.10" y2="555.30" stroke="#111" stroke-width="2.3" />
<line x1="390.70" y1="555.30" x2="394.90" y2="555.30" stroke="#111" stroke-width="2.3" />
<circle cx="385.3" cy="555.3" r="4.5" fill="#111"/>
<line x1="376.30" y1="575.40" x2="394.90" y2="575.40" stroke="#db672d" stroke-width="2.0" />
<rect x="382.20" y="572.30" width="6.20" height="6.20" fill="#db672d" />
<line x1="376.30" y1="594.80" x2="394.90" y2="594.80" stroke="#375c32" stroke-width="1.7" />
<polygon points="385.3,590.8 389.2,594.8 385.3,598.8 381.40000000000003,594.8" fill="#375c32"/>
<line x1="376.30" y1="615.60" x2="394.90" y2="615.60" stroke="#2e2e2e" stroke-width="1.9" />
<polygon points="385.3,612.3000000000001 388.7,618.0 381.90000000000003,618.0" fill="#2e2e2e"/>
<text y="559.60" font-size="12.5" fill="#111" stroke="#111" stroke-width="0.28"><tspan x="406.00" textLength="57.30" lengthAdjust="spacingAndGlyphs">Oxaliplatin</tspan></text>
<text y="579.70" font-size="12.5" fill="#111" stroke="#111" stroke-width="0.28"><tspan x="406.00" textLength="49.30" lengthAdjust="spacingAndGlyphs">ABT-199</tspan><tspan> </tspan><tspan x="461.40" textLength="7.30" lengthAdjust="spacingAndGlyphs">+</tspan><tspan> </tspan><tspan x="472.80" textLength="57.30" lengthAdjust="spacingAndGlyphs">Oxaliplatin</tspan></text>
<text y="599.10" font-size="12.5" fill="#111" stroke="#111" stroke-width="0.28"><tspan x="406.00" textLength="49.30" lengthAdjust="spacingAndGlyphs">ABT-737</tspan><tspan> </tspan><tspan x="461.40" textLength="7.30" lengthAdjust="spacingAndGlyphs">+</tspan><tspan> </tspan><tspan x="472.80" textLength="57.30" lengthAdjust="spacingAndGlyphs">Oxaliplatin</tspan></text>
<text y="619.90" font-size="12.5" fill="#111" stroke="#111" stroke-width="0.28"><tspan x="406.00" textLength="61.00" lengthAdjust="spacingAndGlyphs">WEHI-539</tspan><tspan> </tspan><tspan x="471.90" textLength="7.30" lengthAdjust="spacingAndGlyphs">+</tspan><tspan> </tspan><tspan x="483.60" textLength="57.30" lengthAdjust="spacingAndGlyphs">Oxaliplatin</tspan></text>
</svg>
</body></html>
